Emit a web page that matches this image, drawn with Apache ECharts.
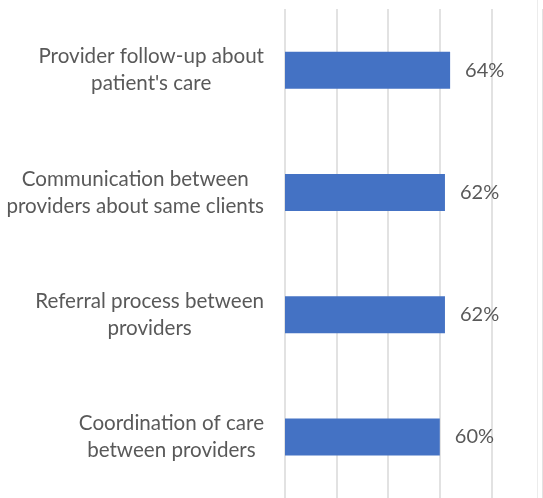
<!DOCTYPE html>
<html>
<head>
<meta charset="utf-8">
<script src="https://cdn.jsdelivr.net/npm/echarts@6/dist/echarts.min.js"></script>
<style>html,body{margin:0;padding:0;background:#fff}#c{width:543px;height:498px}</style>
</head>
<body>
<div id="c"></div>
<script>
const categories = [
  "Provider follow-up about\npatient's care",
  "Communication between\nproviders about same clients",
  "Referral process between\nproviders",
  "Coordination of care\nbetween providers"
];
const values = [64, 62, 62, 60];
const xTicks = [0, 20, 40, 60, 80, 100];

const FONT = 'Lato';
const chart = echarts.init(document.getElementById('c'), null, {renderer: 'canvas'});
chart.setOption({
  animation: false,
  backgroundColor: '#ffffff',
  grid: {left: 285, top: 9, width: 258.3, height: 490, containLabel: false},
  xAxis: {
    type: 'value', min: xTicks[0], max: xTicks[xTicks.length - 1], interval: 20,
    axisLabel: {show: false}, axisTick: {show: false}, axisLine: {show: false},
    splitLine: {show: true, lineStyle: {color: '#d9d9d9', width: 1.5}}
  },
  yAxis: {
    type: 'category', inverse: true, data: categories,
    axisTick: {show: false},
    axisLine: {show: false},
    axisLabel: {
      margin: 21,
      formatter: function (v) {
        return v.split('\n').map(s => '{a|' + s + '}').join('\n');
      },
      rich: {a: {align: 'center', fontFamily: FONT, fontSize: 20.6, lineHeight: 27, color: '#595959'}}
    }
  },
  series: [{
    type: 'bar', data: values, barWidth: 37,
    itemStyle: {color: '#4472C4'},
    label: {show: true, position: 'right', distance: 15, formatter: '{c}%',
      fontFamily: FONT, fontSize: 20, color: '#595959'}
  }],
  graphic: [{type: 'line', shape: {x1: 537.5, y1: 0, x2: 537.5, y2: 498}, style: {stroke: '#ececec', lineWidth: 1}}]
});
</script>
</body>
</html>
